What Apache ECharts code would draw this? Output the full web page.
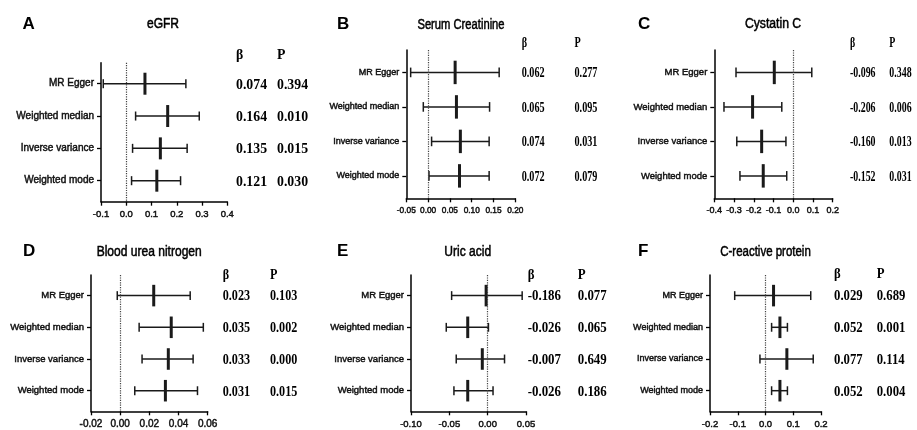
<!DOCTYPE html>
<html>
<head>
<meta charset="utf-8">
<title>MR estimates for kidney and inflammation markers</title>
<script src="https://cdn.jsdelivr.net/npm/echarts@6/dist/echarts.min.js"></script>
<style>
  html, body { margin: 0; padding: 0; background: #fff; }
  #chart { width: 917px; height: 430px; }
</style>
</head>
<body>
<div id="chart"></div>
<script>
// MR methods shown on every panel (top to bottom)
const methods = ['MR Egger', 'Weighted median', 'Inverse variance', 'Weighted mode'];

// eGFR
const egfrBeta = [0.074, 0.164, 0.135, 0.121];
const egfrLow  = [-0.091, 0.037, 0.025, 0.021];
const egfrHigh = [0.236, 0.289, 0.241, 0.215];
const egfrP    = [0.394, 0.010, 0.015, 0.030];

// Serum creatinine
const creatBeta = [0.062, 0.065, 0.074, 0.072];
const creatLow  = [-0.040, -0.011, 0.008, 0.002];
const creatHigh = [0.163, 0.141, 0.140, 0.140];
const creatP    = [0.277, 0.095, 0.031, 0.079];

// Cystatin C
const cysBeta = [-0.096, -0.206, -0.160, -0.152];
const cysLow  = [-0.290, -0.351, -0.286, -0.270];
const cysHigh = [0.094, -0.058, -0.037, -0.033];
const cysP    = [0.348, 0.006, 0.013, 0.031];

// Blood urea nitrogen
const bunBeta = [0.023, 0.035, 0.033, 0.031];
const bunLow  = [-0.002, 0.013, 0.015, 0.010];
const bunHigh = [0.048, 0.057, 0.050, 0.053];
const bunP    = [0.103, 0.002, 0.000, 0.015];

// Uric acid (the MR Egger point sits near zero; its printed beta is -0.186)
const uricBeta = [-0.186, -0.026, -0.007, -0.026];
const uricEst  = [-0.002, -0.026, -0.007, -0.026];
const uricLow  = [-0.047, -0.054, -0.041, -0.044];
const uricHigh = [0.045, 0.001, 0.022, 0.007];
const uricP    = [0.077, 0.065, 0.649, 0.186];

// C-reactive protein
const crpBeta = [0.029, 0.052, 0.077, 0.052];
const crpLow  = [-0.111, 0.022, -0.020, 0.022];
const crpHigh = [0.163, 0.079, 0.172, 0.079];
const crpP    = [0.689, 0.001, 0.114, 0.004];

// x-axis ranges [min, max, interval]
const egfrAxis  = [-0.1, 0.4, 0.1];
const creatAxis = [-0.05, 0.20, 0.05];
const cysAxis   = [-0.4, 0.2, 0.1];
const bunAxis   = [-0.02, 0.06, 0.02];
const uricAxis  = [-0.10, 0.05, 0.05];
const crpAxis   = [-0.2, 0.2, 0.1];

const panels = [
  { letter: 'A', title: 'eGFR', est: egfrBeta, beta: egfrBeta, lo: egfrLow, hi: egfrHigh, p: egfrP,
    axis: egfrAxis, dec: 1,
    layout: { grid: [101, 62.7, 126.3, 139], catFont: 10, tickFont: 9.5,
      letterX: 22.5, titleX: 163, titleY: 24.5, titleScale: 0.86,
      betaX: 236, pX: 277, headY: 55, tFont: 15, tScale: 0.92 } },
  { letter: 'B', title: 'Serum Creatinine', est: creatBeta, beta: creatBeta, lo: creatLow, hi: creatHigh, p: creatP,
    axis: creatAxis, dec: 2,
    layout: { grid: [406.3, 50, 109, 148.3], catFont: 9, tickFont: 8.3,
      letterX: 337, titleX: 461, titleY: 24.7, titleScale: 0.8,
      betaX: 521.7, pX: 574.5, headY: 43.5, tFont: 15, tScale: 0.68 } },
  { letter: 'C', title: 'Cystatin C', est: cysBeta, beta: cysBeta, lo: cysLow, hi: cysHigh, p: cysP,
    axis: cysAxis, dec: 1,
    layout: { grid: [714.3, 50, 118.4, 148.3], catFont: 9.5, tickFont: 9,
      letterX: 638, titleX: 773, titleY: 24, titleScale: 0.87,
      betaX: 850, pX: 889.3, headY: 43, tFont: 15, tScale: 0.66 } },
  { letter: 'D', title: 'Blood urea nitrogen', est: bunBeta, beta: bunBeta, lo: bunLow, hi: bunHigh, p: bunP,
    axis: bunAxis, dec: 2,
    layout: { grid: [91, 275, 116.7, 136.3], catFont: 9.5, tickFont: 10,
      letterX: 23, titleX: 149.2, titleY: 251.7, titleScale: 0.86,
      betaX: 222.7, pX: 270, headY: 275, tFont: 15, tScale: 0.81 } },
  { letter: 'E', title: 'Uric acid', est: uricEst, beta: uricBeta, lo: uricLow, hi: uricHigh, p: uricP,
    axis: uricAxis, dec: 2,
    layout: { grid: [411, 275, 115, 136.3], catFont: 9.5, tickFont: 9.5,
      letterX: 337, titleX: 467.7, titleY: 251.7, titleScale: 0.86,
      betaX: 527.7, pX: 577.7, headY: 274.7, tFont: 15, tScale: 0.86 } },
  { letter: 'F', title: 'C-reactive protein', est: crpBeta, beta: crpBeta, lo: crpLow, hi: crpHigh, p: crpP,
    axis: crpAxis, dec: 1,
    layout: { grid: [710, 275, 111, 136.3], catFont: 9, tickFont: 9.5,
      letterX: 638, titleX: 765.5, titleY: 251.7, titleScale: 0.82,
      betaX: 834, pX: 876.7, headY: 274.3, tFont: 15, tScale: 0.85 } }
];

const INK = '#1a1a1a';
const SANS = '"Liberation Sans", Arial, sans-serif';
const SERIF = '"Liberation Serif", "Times New Roman", serif';
const ROW_PAD = 0.65;   // space above first / below last row, in row units
const SANS_STROKE = 0.45; // slight outline to give the sans text a heavier look

function makeRender(pn) {
  const L = pn.layout;
  const tFont = 'bold ' + L.tFont + 'px ' + SERIF;
  return function (params, api) {
    const i = params.dataIndex;
    const row = api.value(3);
    const c = api.coord([api.value(0), row]);
    const l = api.coord([api.value(1), row]);
    const h = api.coord([api.value(2), row]);
    const y = c[1];
    const u = Math.abs(api.size([0, 1])[1]);
    const capH = u * 0.14;
    const estH = u * 0.34;
    const thin = { stroke: INK, lineWidth: 1.5 };
    return {
      type: 'group',
      children: [
        { type: 'line', shape: { x1: l[0], y1: y, x2: h[0], y2: y }, style: thin },
        { type: 'line', shape: { x1: l[0], y1: y - capH, x2: l[0], y2: y + capH }, style: thin },
        { type: 'line', shape: { x1: h[0], y1: y - capH, x2: h[0], y2: y + capH }, style: thin },
        { type: 'line', shape: { x1: c[0], y1: y - estH, x2: c[0], y2: y + estH },
          style: { stroke: INK, lineWidth: 3 } },
        { type: 'text', x: L.betaX, y: y + 1, scaleX: L.tScale,
          style: { text: pn.beta[i].toFixed(3), font: tFont, fill: '#000',
                   align: 'left', verticalAlign: 'middle' } },
        { type: 'text', x: L.pX, y: y + 1, scaleX: L.tScale,
          style: { text: pn.p[i].toFixed(3), font: tFont, fill: '#000',
                   align: 'left', verticalAlign: 'middle' } }
      ]
    };
  };
}

const grids = [], xAxes = [], yAxes = [], series = [], graphics = [];

panels.forEach(function (pn, k) {
  const L = pn.layout;
  grids.push({ left: L.grid[0], top: L.grid[1], width: L.grid[2], height: L.grid[3],
               containLabel: false, outerBoundsMode: 'none' });

  xAxes.push({
    type: 'value', gridIndex: k,
    min: pn.axis[0], max: pn.axis[1], interval: pn.axis[2],
    splitLine: { show: false },
    axisLine: { show: true, onZero: false, lineStyle: { color: '#000', width: 1.5 } },
    axisTick: { show: true, length: 4, lineStyle: { color: '#000', width: 1.3 } },
    axisLabel: {
      color: '#111', fontFamily: SANS, fontSize: L.tickFont, margin: 8,
      textBorderColor: '#111', textBorderWidth: SANS_STROKE,
      showMinLabel: true, showMaxLabel: true,
      formatter: function (v) { return (Math.abs(v) < 1e-9 ? 0 : v).toFixed(pn.dec); }
    }
  });

  yAxes.push({
    type: 'value', gridIndex: k, inverse: true,
    min: 1 - ROW_PAD, max: methods.length + ROW_PAD,
    splitLine: { show: false },
    axisLine: { show: true, onZero: false, lineStyle: { color: '#000', width: 1.5 } },
    axisTick: { show: true, length: 4, customValues: [1, 2, 3, 4],
                lineStyle: { color: '#000', width: 1.3 } },
    axisLabel: {
      show: true, customValues: [1, 2, 3, 4], margin: 7,
      color: '#111', fontFamily: SANS, fontSize: L.catFont,
      textBorderColor: '#111', textBorderWidth: SANS_STROKE,
      formatter: function (v) { return methods[Math.round(v) - 1] || ''; }
    }
  });

  series.push({
    type: 'custom', xAxisIndex: k, yAxisIndex: k,
    renderItem: makeRender(pn),
    encode: { x: [0, 1, 2], y: 3 },
    clip: false, silent: true,
    data: methods.map(function (m, r) { return [pn.est[r], pn.lo[r], pn.hi[r], r + 1]; }),
    markLine: {
      silent: true, symbol: ['none', 'none'], animation: false,
      label: { show: false },
      lineStyle: { type: 'dotted', color: '#444', width: 1.2 },
      data: [{ xAxis: 0 }]
    }
  });

  // panel letter, panel title, column headers
  graphics.push({
    type: 'text', x: L.letterX, y: L.titleY,
    style: { text: pn.letter, font: 'bold 17px ' + SANS, fill: '#000',
             textAlign: 'left', textVerticalAlign: 'middle', align: 'left', verticalAlign: 'middle' }
  });
  graphics.push({
    type: 'text', x: L.titleX, y: L.titleY, scaleX: L.titleScale,
    style: { text: pn.title, font: '14px ' + SANS, fill: '#000',
             stroke: '#000', lineWidth: 0.5,
             textAlign: 'center', textVerticalAlign: 'middle', align: 'center', verticalAlign: 'middle' }
  });
  ['β', 'P'].forEach(function (h, j) {
    graphics.push({
      type: 'text', x: j === 0 ? L.betaX : L.pX, y: L.headY, scaleX: L.tScale,
      style: { text: h, font: 'bold ' + L.tFont + 'px ' + SERIF, fill: '#000',
               textAlign: 'left', textVerticalAlign: 'middle', align: 'left', verticalAlign: 'middle' }
    });
  });
});

const chart = echarts.init(document.getElementById('chart'), null, { renderer: 'canvas' });
chart.setOption({
  backgroundColor: '#fff',
  animation: false,
  grid: grids,
  xAxis: xAxes,
  yAxis: yAxes,
  series: series,
  graphic: { elements: graphics }
});
</script>
</body>
</html>
